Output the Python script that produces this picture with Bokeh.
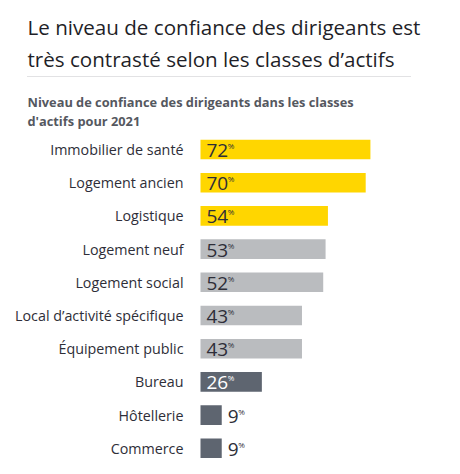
from bokeh.plotting import figure
from bokeh.models import ColumnDataSource, Range1d, Label
from bokeh.core.properties import value
from bokeh.embed import file_html
from bokeh.resources import INLINE

# Data
categories = [
    "Immobilier de santé",
    "Logement ancien",
    "Logistique",
    "Logement neuf",
    "Logement social",
    "Local d\u2019activité spécifique",
    "Équipement public",
    "Bureau",
    "Hôtellerie",
    "Commerce",
]
values = [72, 70, 54, 53, 52, 43, 43, 26, 9, 9]
groups = ["high", "high", "high", "mid", "mid", "mid", "mid", "low", "low", "low"]

title_lines = ["Le niveau de confiance des dirigeants est",
               "très contrasté selon les classes d\u2019actifs"]
subtitle_lines = ["Niveau de confiance des dirigeants dans les classes",
                  "d'actifs pour 2021"]

# Styling
W, H = 460, 474
PX_PER_PCT = 2.36
BAR_X0 = 200          # screen x of the zero line
ROW_PITCH = 33.2      # px between rows
FIRST_ROW = 149       # screen y (from top) of first row center
INK = "#2e2e38"
fill_for = {"high": "#FFD600", "mid": "#BABCBF", "low": "#5E6570"}
text_for = {"high": INK, "mid": INK, "low": "#ffffff"}
FONT = "Open Sans"

n = len(categories)
rows = list(range(n))
inside = [v >= 15 for v in values]
label_x = [0 if ins else v for v, ins in zip(values, inside)]
label_color = [text_for[g] if ins else INK for g, ins in zip(groups, inside)]
num_txt = [str(v) for v in values]
digit_w = 10.6
pct_offset = [6 + len(t) * digit_w for t in num_txt]

src = ColumnDataSource(dict(
    cat=categories, val=values, row=rows,
    fill=[fill_for[g] for g in groups],
    lx=label_x, lcol=label_color, num=num_txt,
    pct=["%"] * n, pct_off=pct_offset,
))

x_start = -BAR_X0 / PX_PER_PCT
x_end = (W - BAR_X0) / PX_PER_PCT
y_top = -FIRST_ROW / ROW_PITCH
y_bot = (H - FIRST_ROW) / ROW_PITCH

p = figure(width=W, height=H, output_backend="svg", toolbar_location=None,
           x_range=Range1d(x_start, x_end), y_range=Range1d(y_bot, y_top),
           x_axis_type=None, y_axis_type=None, min_border=0,
           outline_line_color=None, background_fill_color="white",
           border_fill_color="white")
p.grid.visible = False

p.hbar(y="row", left=0, right="val", height=0.59, fill_color="fill",
       line_color=None, source=src)

# category labels
p.text(x=0, y="row", text="cat", x_offset=-17, text_align="right",
       text_baseline="middle", text_font=value(FONT), text_font_size="14.3px",
       text_color=INK, source=src)

# value labels
p.text(x="lx", y="row", text="num", x_offset=6, y_offset=1, text_align="left",
       text_baseline="middle", text_font=value(FONT), text_font_size="19px",
       text_color="lcol", source=src)
p.text(x="lx", y="row", text="pct", x_offset="pct_off", y_offset=-4,
       text_align="left", text_baseline="middle", text_font=value(FONT),
       text_font_size="8px", text_color="lcol", source=src)

# headings
for i, t in enumerate(title_lines):
    p.add_layout(Label(x=27, y=H - 26 - i * 32, x_units="screen", y_units="screen",
                       text=t, text_font=FONT, text_font_size="20.6px",
                       text_color="#1f1f28", text_baseline="alphabetic"))
for i, t in enumerate(subtitle_lines):
    p.add_layout(Label(x=27, y=H - 101 - i * 19, x_units="screen", y_units="screen",
                       text=t, text_font=FONT, text_font_size="12.8px",
                       text_font_style="bold", text_color="#55585f",
                       text_baseline="alphabetic"))

# dotted rule under the title
p.segment(x0=[x_start + 27 / PX_PER_PCT], x1=[x_start + 411 / PX_PER_PCT],
          y0=[y_top + 76 / ROW_PITCH], y1=[y_top + 76 / ROW_PITCH],
          line_color="#c4c4c8", line_width=1, line_dash="1 1")

open("out.html", "w").write(file_html(p, INLINE))
